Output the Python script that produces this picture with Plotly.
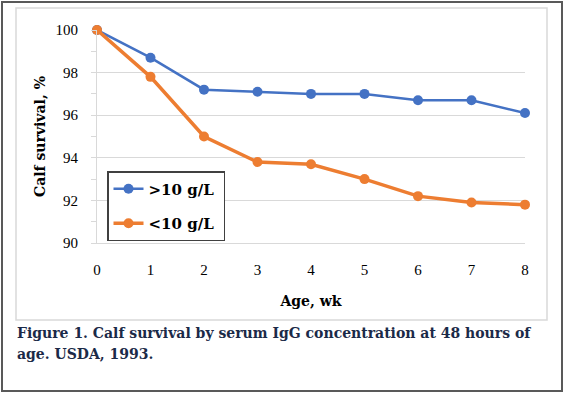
import plotly.graph_objects as go

weeks = [0, 1, 2, 3, 4, 5, 6, 7, 8]
high_igg = [100, 98.7, 97.2, 97.1, 97.0, 97.0, 96.7, 96.7, 96.1]
low_igg = [100, 97.8, 95.0, 93.8, 93.7, 93.0, 92.2, 91.9, 91.8]
series_names = ["&gt;10 g/L", "&lt;10 g/L"]
y_ticks = [90, 92, 94, 96, 98, 100]
x_ticks = weeks

W, H = 566, 394
L, R, T, B = 97, 525, 30, 243

def px(x):
    return (x - L) / (R - L)

def py(y):
    return (B - y) / (B - T)

serif = "DejaVu Serif"
tick_font = dict(family="Liberation Serif", size=15, color="black")

fig = go.Figure()
fig.add_trace(go.Scatter(x=weeks, y=high_igg, name="<b>" + series_names[0] + "</b>&nbsp;",
                         mode="lines+markers", legendgroup="a",
                         line=dict(color="#4472C4", width=2.5),
                         marker=dict(size=10, color="#4472C4"), cliponaxis=False))
fig.add_trace(go.Scatter(x=weeks, y=low_igg, name="<b>" + series_names[1] + "</b>&nbsp;",
                         mode="lines+markers", legendgroup="b",
                         line=dict(color="#ED7D31", width=3.5),
                         marker=dict(size=10, color="#ED7D31"), cliponaxis=False))

fig.update_layout(
    width=W, height=H,
    margin=dict(l=L, r=W - R, t=T, b=H - B),
    paper_bgcolor="white", plot_bgcolor="white",
    showlegend=True,
    legend=dict(x=px(107), y=py(171), xanchor="left", yanchor="top",
                bgcolor="white", bordercolor="#404040", borderwidth=1.5,
                font=dict(family=serif, size=15, color="black"),
                tracegroupgap=12),
    xaxis=dict(range=[0, 8], tickvals=x_ticks, showgrid=False, zeroline=False,
               showline=True, linecolor="#D9D9D9", linewidth=1,
               ticks="", ticklabelstandoff=13, tickfont=tick_font,
               title=dict(text="<b>Age, wk</b>", font=dict(family=serif, size=14, color="black"),
                          standoff=19)),
    yaxis=dict(range=[90, 100], tickvals=y_ticks, showgrid=True, gridcolor="#D9D9D9",
               gridwidth=1, zeroline=False, showline=True, linecolor="#D9D9D9", linewidth=1,
               ticks="outside", ticklen=5, tickcolor="#D9D9D9", ticklabelstandoff=10,
               minor=dict(dtick=1, ticks="outside", ticklen=5, tickcolor="#D9D9D9", showgrid=False),
               tickfont=tick_font,
               title=dict(text="<b>Calf survival, %</b>", font=dict(family=serif, size=14, color="black"),
                          standoff=6)),
    font=dict(family=serif),
)
fig.update_xaxes(tickprefix="<b>", ticksuffix="</b>")
fig.update_yaxes(tickprefix="<b>", ticksuffix="</b>")

# outer border
fig.add_shape(type="rect", xref="paper", yref="paper",
              x0=px(2), x1=px(562), y0=py(391), y1=py(2),
              line=dict(color="#595959", width=2), layer="below")
# inner chart area border
fig.add_shape(type="rect", xref="paper", yref="paper",
              x0=px(16), x1=px(547), y0=py(320), y1=py(8),
              line=dict(color="#D9D9D9", width=1.5), layer="below")

caption_color = "#1B2A48"
fig.add_annotation(xref="paper", yref="paper", x=px(15), y=py(333), xanchor="left", yanchor="middle",
                   text="<b>Figure 1. Calf survival by serum IgG concentration at 48 hours of</b>",
                   showarrow=False, font=dict(family=serif, size=14, color=caption_color))
fig.add_annotation(xref="paper", yref="paper", x=px(15), y=py(354), xanchor="left", yanchor="middle",
                   text="<b>age. USDA, 1993.</b>",
                   showarrow=False, font=dict(family=serif, size=14, color=caption_color))

fig.write_html("out.html", config={"displayModeBar": False},
               post_script="document.body.style.margin='0';")
